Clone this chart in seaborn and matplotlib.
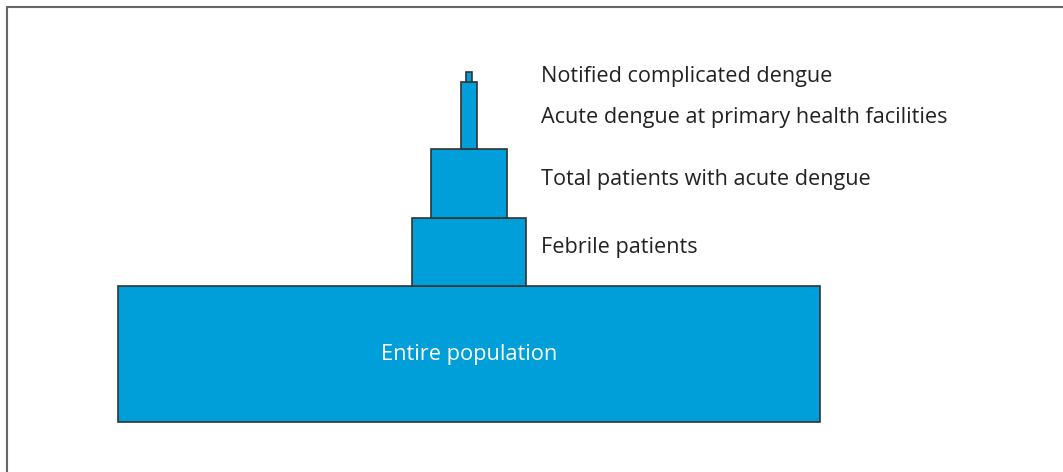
import matplotlib
matplotlib.use("Agg")
import matplotlib.pyplot as plt
import seaborn as sns
from matplotlib.lines import Line2D

# Data: pyramid levels from bottom to top
levels = ["Entire population", "Febrile patients", "Total patients with acute dengue",
          "Acute dengue at primary health facilities", "Notified complicated dengue"]
level_widths = [702, 114, 76, 16, 5.5]      # relative size of each group
level_heights = [136, 68, 69, 67, 10]       # block height

sns.set_theme(style="white")
plt.rcParams['font.family'] = ['Open Sans', 'DejaVu Sans']

W, H = 1063, 472
fig = plt.figure(figsize=(W / 100, H / 100), dpi=100)
ax = fig.add_axes([0, 0, 1, 1])
ax.set_xlim(0, W)
ax.set_ylim(H, 0)
ax.axis("off")

center_x = 469
base_y = 421.5
fill = "#009FDA"
edge = "#333333"

tops = []
y = base_y
for h in level_heights:
    tops.append(y - h)
    y -= h

ax.bar([center_x] * len(levels), level_heights, width=level_widths, bottom=tops,
       color=fill, edgecolor=edge, linewidth=1.2, align="center", zorder=2)

# Labels
label_x = 541
baselines = {1: 253, 2: 185, 3: 123, 4: 82}
for i, name in enumerate(levels):
    if i == 0:
        ax.text(center_x, 360, name, ha="center", va="baseline",
                fontsize=15.7, color="white", zorder=3)
    else:
        ax.text(label_x, baselines[i], name, ha="left", va="baseline",
                fontsize=15.6, color="#222222", zorder=3)

# Frame (top and left)
fig.add_artist(Line2D([7 / W, 1.0], [1 - 7 / H, 1 - 7 / H], transform=fig.transFigure,
                      color="#666666", linewidth=1.5))
fig.add_artist(Line2D([7 / W, 7 / W], [0, 1 - 7 / H], transform=fig.transFigure,
                      color="#666666", linewidth=1.5))

fig.savefig("out.png", dpi=100)
